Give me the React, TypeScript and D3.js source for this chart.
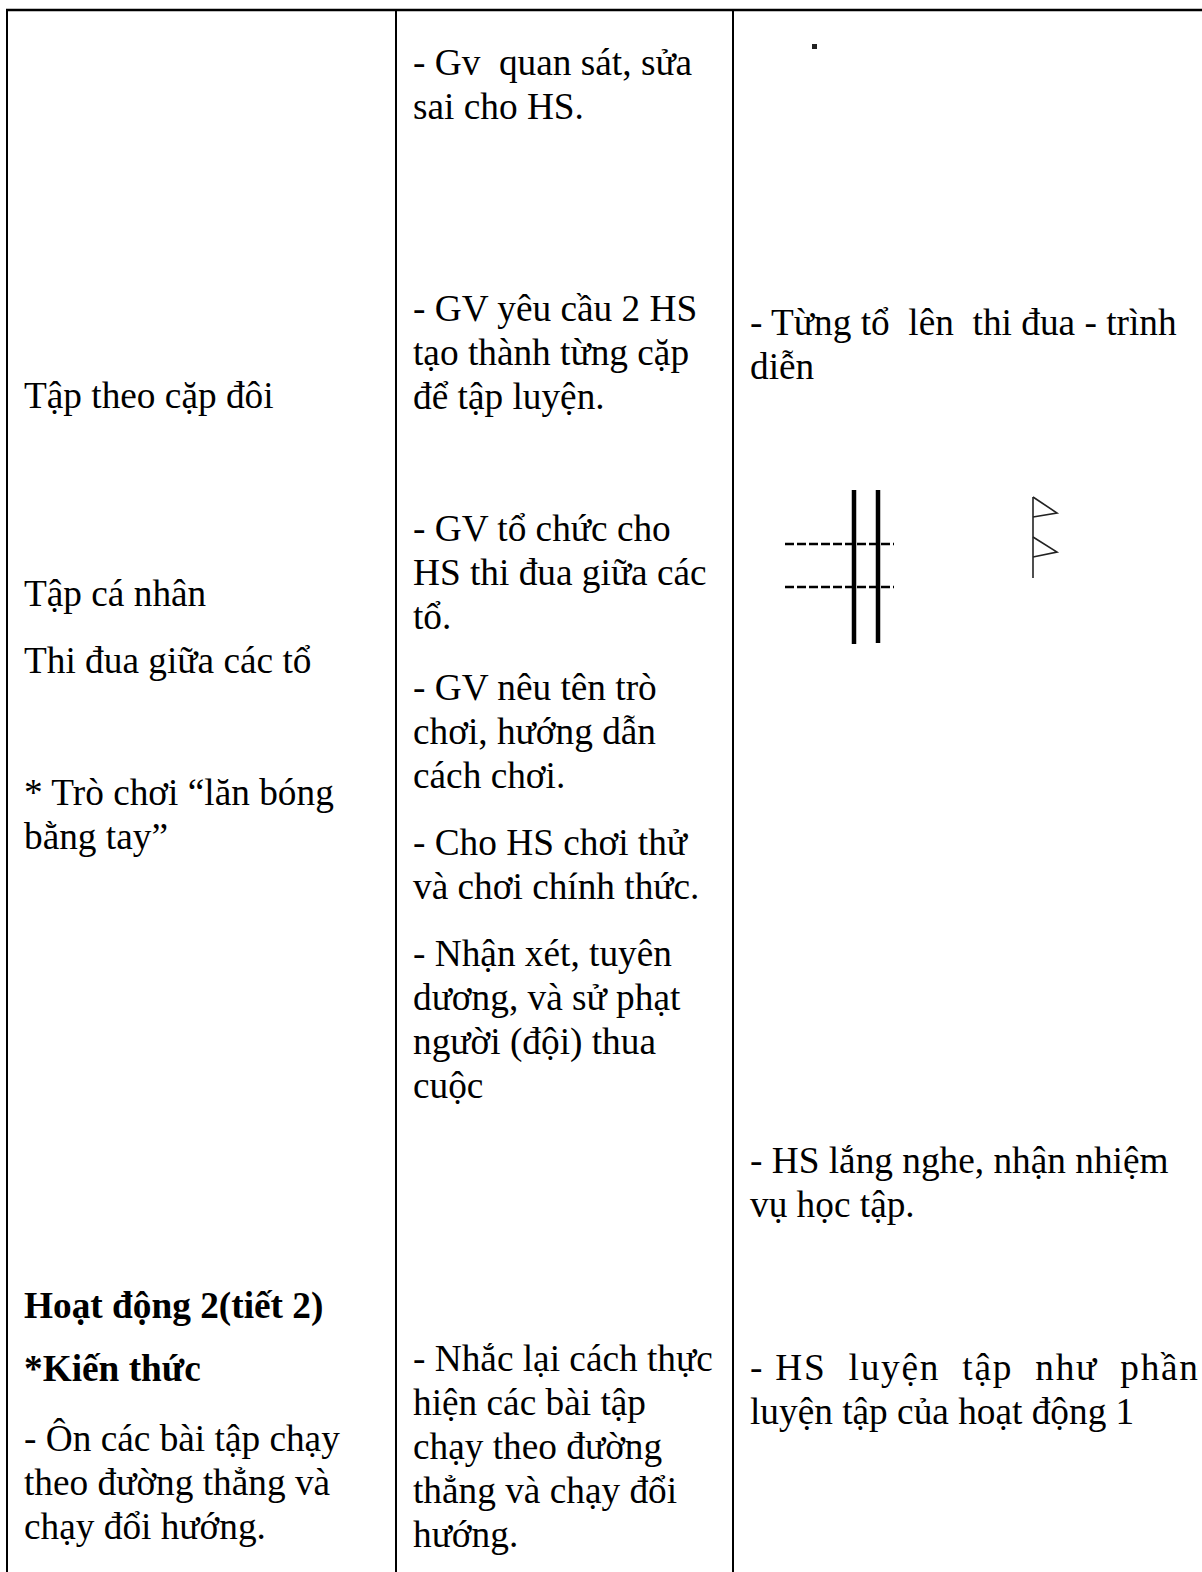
import React from 'react'
import * as d3 from 'd3'

// text of each cell block, column by column
const colLeft = [
  ['Tập theo cặp đôi'],
  ['Tập cá nhân'],
  ['Thi đua giữa các tổ'],
  ['* Trò chơi “lăn bóng', 'bằng tay”'],
  ['Hoạt động 2(tiết 2)'],
  ['*Kiến thức'],
  ['- Ôn các bài tập chạy', 'theo đường thẳng và', 'chạy đổi hướng.'],
]
const colLeftBold = [false, false, false, false, true, true, false]

const colMid = [
  ['- Gv  quan sát, sửa', 'sai cho HS.'],
  ['- GV yêu cầu 2 HS', 'tạo thành từng cặp', 'để tập luyện.'],
  ['- GV tổ chức cho', 'HS thi đua giữa các', 'tổ.'],
  ['- GV nêu tên trò', 'chơi, hướng dẫn', 'cách chơi.'],
  ['- Cho HS chơi thử', 'và chơi chính thức.'],
  ['- Nhận xét, tuyên', 'dương, và sử phạt', 'người (đội) thua', 'cuộc'],
  ['- Nhắc lại cách thực', 'hiện các bài tập', 'chạy theo đường', 'thẳng và chạy đổi', 'hướng.'],
]

const colRight = [
  ['- Từng tổ  lên  thi đua - trình', 'diễn'],
  ['- HS lắng nghe, nhận nhiệm', 'vụ học tập.'],
  ['- HS  luyện  tập  như  phần', 'luyện tập của hoạt động 1'],
]
// lines that are justified to the full cell width
const colRightJustify = [[false, false], [false, false], [true, false]]

// layout: vertical centre of each block's first line
const leftTops = [395, 593, 660, 792, 1305, 1368, 1438]
const midTops = [62, 308, 528, 687, 842, 953, 1358]
const rightTops = [322, 1160, 1367]

const W = 1202
const H = 1572
const lineStep = 44
const fontSize = 37.3
const font = '"Liberation Serif", "Times New Roman", serif'

const colX = [24, 413, 750]
const borders = { left: 7, top: 10, div1: 396, div2: 733 }

function Block({ lines, x, top, bold, justify }: any) {
  const y = d3.scaleLinear().domain([0, 1]).range([top + 13, top + 13 + lineStep])
  return (
    <g>
      {lines.map((t: string, i: number) => (
        <text
          key={i}
          x={x}
          y={y(i)}
          fontFamily={font}
          fontSize={fontSize}
          fontWeight={bold ? 'bold' : 'normal'}
          fill="#000"
          style={{ whiteSpace: 'pre' }}
          {...(justify && justify[i] ? { textLength: 448, lengthAdjust: 'spacing' } : {})}
        >
          {t}
        </text>
      ))}
    </g>
  )
}

export default function App() {
  const line = d3.line()
  // flag drawing on the right
  const poleX = 1033
  const flag1: [number, number][] = [[poleX, 497], [1057, 513], [poleX, 517]]
  const flag2: [number, number][] = [[poleX, 537], [1057, 552], [poleX, 557]]

  return (
    <svg
      width={W}
      height={H}
      style={{ position: 'absolute', left: 0, top: 0, background: '#fff' }}
    >
      <rect width={W} height={H} fill="#fff" />

      {/* table rules */}
      <line x1={borders.left - 1} x2={W} y1={borders.top} y2={borders.top} stroke="#000" strokeWidth={2.5} />
      <line x1={borders.left} x2={borders.left} y1={borders.top} y2={H} stroke="#000" strokeWidth={2} />
      <line x1={borders.div1} x2={borders.div1} y1={borders.top} y2={H} stroke="#000" strokeWidth={2} />
      <line x1={borders.div2} x2={borders.div2} y1={borders.top} y2={H} stroke="#000" strokeWidth={2} />

      {colLeft.map((b, i) => (
        <Block key={'l' + i} lines={b} x={colX[0]} top={leftTops[i]} bold={colLeftBold[i]} />
      ))}
      {colMid.map((b, i) => (
        <Block key={'m' + i} lines={b} x={colX[1]} top={midTops[i]} />
      ))}
      {colRight.map((b, i) => (
        <Block key={'r' + i} lines={b} x={colX[2]} top={rightTops[i]} justify={colRightJustify[i]} />
      ))}

      {/* small dot */}
      <rect x={812} y={44} width={5} height={5} fill="#222" />

      {/* double bars with dashed lines */}
      <line x1={854} x2={854} y1={490} y2={644} stroke="#000" strokeWidth={4.5} />
      <line x1={878} x2={878} y1={490} y2={643} stroke="#000" strokeWidth={4.5} />
      <line x1={785} x2={894} y1={544} y2={544} stroke="#000" strokeWidth={2.5} strokeDasharray="9,3" />
      <line x1={785} x2={894} y1={587} y2={587} stroke="#000" strokeWidth={2.5} strokeDasharray="9,3" />

      {/* flags */}
      <line x1={poleX} x2={poleX} y1={497} y2={578} stroke="#222" strokeWidth={1.6} />
      <path d={line(flag1) || ''} fill="none" stroke="#222" strokeWidth={1.6} />
      <path d={line(flag2) || ''} fill="none" stroke="#222" strokeWidth={1.6} />
    </svg>
  )
}
